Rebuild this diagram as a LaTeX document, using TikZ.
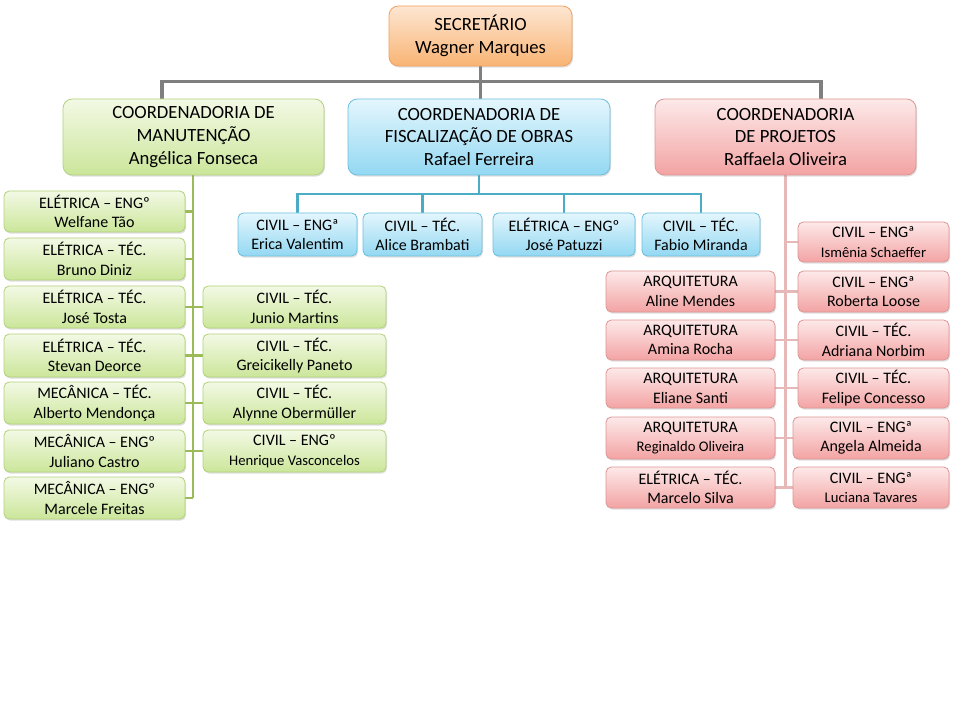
\documentclass[tikz,border=0pt]{standalone}
\usepackage{fontspec}
\setmainfont{Carlito}
\usetikzlibrary{shadows,backgrounds}
\definecolor{orT}{HTML}{FDE6D2}\definecolor{orB}{HTML}{F9B474}\definecolor{orD}{HTML}{F3A05C}
\definecolor{grT}{HTML}{F3F9E5}\definecolor{grB}{HTML}{CBE69A}\definecolor{grD}{HTML}{B2D37A}
\definecolor{blT}{HTML}{E4F6FD}\definecolor{blB}{HTML}{93D8F2}\definecolor{blD}{HTML}{6CC0DE}
\definecolor{rdT}{HTML}{FDE9E9}\definecolor{rdB}{HTML}{F3A3A3}\definecolor{rdD}{HTML}{DE9595}
\definecolor{lnG}{HTML}{7F7F7F}\definecolor{lnGr}{HTML}{9BBB59}\definecolor{lnB}{HTML}{4BACC6}\definecolor{lnR}{HTML}{E6B9B8}
\tikzset{
  x=0.75pt,y=-0.75pt,
  basebox/.style={rounded corners=4pt,align=center,inner sep=0pt,text=black,line width=0.6pt,
    drop shadow={opacity=0.25,shadow xshift=0.8pt,shadow yshift=-1.2pt}},
  orbox/.style={basebox,draw=orD,top color=orT,bottom color=orB,rounded corners=7pt,font=\fontsize{14}{17}\selectfont},
  grbox/.style={basebox,draw=grD,top color=grT,bottom color=grB},
  blbox/.style={basebox,draw=blD,top color=blT,bottom color=blB},
  rdbox/.style={basebox,draw=rdD,top color=rdT,bottom color=rdB},
  coord/.style={rounded corners=7pt,font=\fontsize{14}{17.2}\selectfont},
  child/.style={font=\fontsize{12}{14.8}\selectfont},
  gline/.style={draw=lnG,line width=2.4pt},
  grline/.style={draw=lnGr,line width=1.6pt},
  blline/.style={draw=lnB,line width=1.6pt},
  rdline/.style={draw=lnR,line width=1.6pt},
}
\newcommand\obox[7]{\node[#6,minimum width={(#4-#2)*0.75pt},minimum height={(#5-#3)*0.75pt}] (#1) at ({(#2+#4)/2},{(#3+#5)/2}) {#7};}
\newcommand\sm[1]{{\fontsize{11}{14.8}\selectfont #1}}
\begin{document}
\begin{tikzpicture}
\useasboundingbox (0,0) rectangle (960,720);
% boxes
\obox{sec}{389}{6}{572}{66}{orbox}{SECRETÁRIO\\Wagner Marques}
\obox{man}{63}{99}{324}{175}{grbox,coord}{COORDENADORIA DE\\MANUTENÇÃO\\Angélica Fonseca}
\obox{fis}{348}{99}{610}{175}{blbox,coord}{COORDENADORIA DE\\FISCALIZAÇÃO DE OBRAS\\Rafael Ferreira}
\obox{pro}{655}{99}{916}{175}{rdbox,coord}{COORDENADORIA\\DE PROJETOS\\Raffaela Oliveira}
% green children
\obox{g1}{4}{191}{185}{232}{grbox,child}{ELÉTRICA – ENGº\\Welfane Tão}
\obox{g2}{4}{238}{185}{280}{grbox,child}{ELÉTRICA – TÉC.\\Bruno Diniz}
\obox{g3}{4}{286}{185}{328}{grbox,child}{ELÉTRICA – TÉC.\\José Tosta}
\obox{g4}{4}{334}{185}{377}{grbox,child}{ELÉTRICA – TÉC.\\Stevan Deorce}
\obox{g5}{4}{382}{185}{424}{grbox,child}{MECÂNICA – TÉC.\\Alberto Mendonça}
\obox{g6}{4}{430}{185}{472}{grbox,child}{MECÂNICA – ENGº\\Juliano Castro}
\obox{g7}{4}{477}{185}{519}{grbox,child}{MECÂNICA – ENGº\\Marcele Freitas}
\obox{h1}{203}{286}{386}{328}{grbox,child}{CIVIL – TÉC.\\Junio Martins}
\obox{h2}{203}{334}{386}{377}{grbox,child}{CIVIL – TÉC.\\Greicikelly Paneto}
\obox{h3}{203}{382}{386}{424}{grbox,child}{CIVIL – TÉC.\\Alynne Obermüller}
\obox{h4}{203}{430}{386}{472}{grbox,child}{CIVIL – ENGº\\\sm{Henrique Vasconcelos}}
% blue children
\obox{b1}{238}{213}{357}{256}{blbox,child}{CIVIL – ENGª\\Erica Valentim}
\obox{b2}{363}{213}{482}{256}{blbox,child}{CIVIL – TÉC.\\Alice Brambati}
\obox{b3}{493}{213}{635}{256}{blbox,child}{ELÉTRICA – ENGº\\José Patuzzi}
\obox{b4}{642}{213}{760}{256}{blbox,child}{CIVIL – TÉC.\\Fabio Miranda}
% red children
\obox{r1}{798}{222}{949}{262}{rdbox,child}{CIVIL – ENGª\\\sm{Ismênia Schaeffer}}
\obox{r2}{798}{271}{949}{312}{rdbox,child}{CIVIL – ENGª\\Roberta Loose}
\obox{r3}{798}{320}{949}{360}{rdbox,child}{CIVIL – TÉC.\\Adriana Norbim}
\obox{r4}{798}{368}{949}{408}{rdbox,child}{CIVIL – TÉC.\\Felipe Concesso}
\obox{r5}{793}{417}{949}{459}{rdbox,child}{CIVIL – ENGª\\Angela Almeida}
\obox{r6}{793}{467}{949}{508}{rdbox,child}{CIVIL – ENGª\\\sm{Luciana Tavares}}
\obox{l1}{606}{271}{775}{312}{rdbox,child}{ARQUITETURA\\Aline Mendes}
\obox{l2}{606}{320}{775}{360}{rdbox,child}{ARQUITETURA\\Amina Rocha}
\obox{l3}{606}{368}{775}{408}{rdbox,child}{ARQUITETURA\\Eliane Santi}
\obox{l4}{606}{417}{775}{459}{rdbox,child}{ARQUITETURA\\\sm{Reginaldo Oliveira}}
\obox{l5}{606}{467}{775}{508}{rdbox,child}{ELÉTRICA – TÉC.\\Marcelo Silva}
% connectors behind boxes
\begin{pgfonlayer}{background}
\fill[white] (0,0) rectangle (960,720);
\coordinate (gtop) at (162,99);
\coordinate (rtop) at (821,99);
\draw[gline] (sec.south) -- ++(0,15) -| (gtop);
\draw[gline] (sec.south) -- ++(0,15) -| (rtop);
\draw[gline] (sec.south) -- (sec.south |- fis.north);
% green
\coordinate (gend) at (193,498);
\draw[grline] (man.south -| gend) -- (gend);
\foreach \n in {g1,g2,g3,g4,g5,g6,g7} \draw[grline] (\n.east) -- (\n.east -| gend);
\foreach \n in {h1,h2,h3,h4} \draw[grline] (\n.west) -- (\n.west -| gend);
% blue
\foreach \n in {b1,b2,b3,b4} \draw[blline] (fis.south) -- ++(0,19) -| (\n.north);
% red
\coordinate (rend) at (785.5,488);
\draw[rdline] (pro.south) -- (pro.south |- rend);
\foreach \n in {r1,r2,r3,r4,r5,r6} \draw[rdline] (\n.west) -- (\n.west -| rend);
\foreach \n in {l1,l2,l3,l4,l5} \draw[rdline] (\n.east) -- (\n.east -| rend);
\end{pgfonlayer}
\end{tikzpicture}
\end{document}
